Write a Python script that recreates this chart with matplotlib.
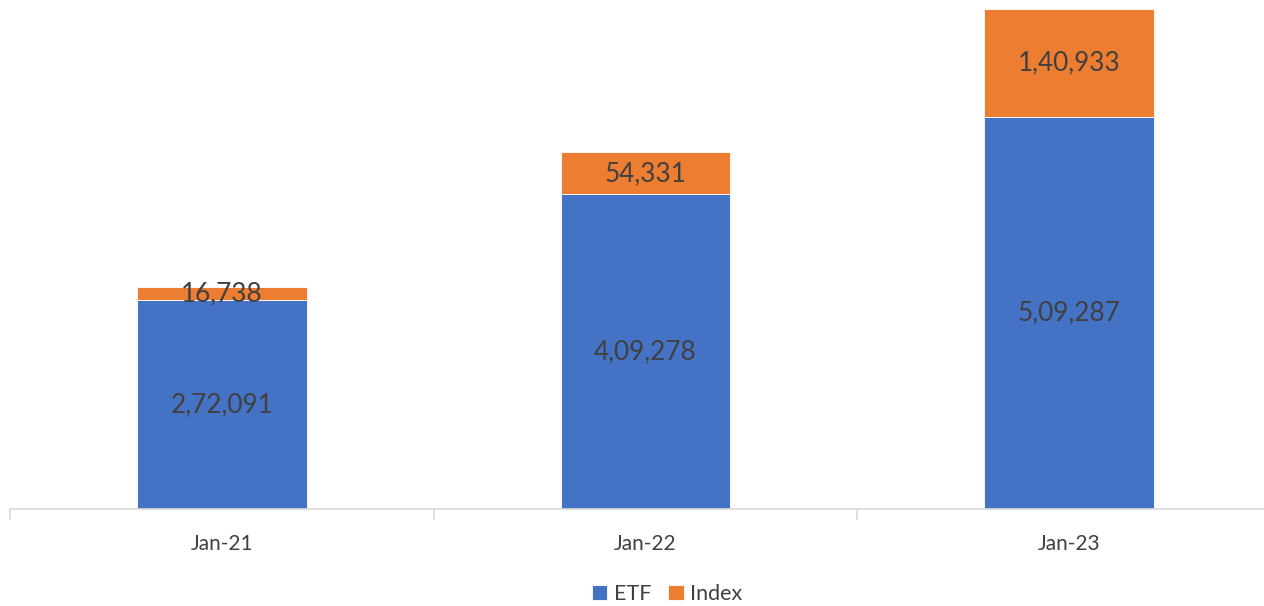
import matplotlib.pyplot as plt
import numpy as np

# data
periods = ['Jan-21', 'Jan-22', 'Jan-23']
etf = [272091, 409278, 509287]
index_vals = [16738, 54331, 140933]

BLUE = '#4472C4'
ORANGE = '#ED7D31'
TXT = '#404040'

plt.rcParams['font.family'] = ['Lato', 'DejaVu Sans']


def indian_fmt(v):
    s = str(int(v))
    if len(s) <= 3:
        return s
    head, tail = s[:-3], s[-3:]
    parts = []
    while len(head) > 2:
        parts.insert(0, head[-2:])
        head = head[:-2]
    if head:
        parts.insert(0, head)
    return ','.join(parts + [tail])


fig = plt.figure(figsize=(12.64, 6.06), dpi=100)
W, H = 1264, 606
ax = fig.add_axes([10 / W, 97 / H, 1271 / W, 500 / H])

x = np.arange(len(periods))
width = 0.40
b1 = ax.bar(x, etf, width, color=BLUE, edgecolor='white', linewidth=0.6, label='ETF')
b2 = ax.bar(x, index_vals, width, bottom=etf, color=ORANGE, edgecolor='white',
            linewidth=0.6, label='Index')

for i in range(len(periods)):
    ax.text(x[i], etf[i] / 2, indian_fmt(etf[i]), ha='center', va='center',
            fontsize=18.8, color=TXT)
    ax.text(x[i], etf[i] + index_vals[i] / 2, indian_fmt(index_vals[i]),
            ha='center', va='center', fontsize=18.8, color=TXT)

ax.set_xlim(-0.5, 2.5)
ax.set_ylim(0, etf[2] + index_vals[2])
for s in ['top', 'right', 'left']:
    ax.spines[s].set_visible(False)
ax.spines['bottom'].set_color('#D9D9D9')
ax.spines['bottom'].set_linewidth(1.2)
ax.set_yticks([])
ax.set_xticks(x)
ax.set_xticklabels(periods, fontsize=15, color=TXT)
ax.tick_params(axis='x', length=0, pad=18)
ax.set_xticks(np.arange(-0.5, 3.0, 1.0), minor=True)
ax.tick_params(axis='x', which='minor', length=8, color='#D9D9D9', width=1.2)

fig.legend(handles=[b1, b2], labels=['ETF', 'Index'], loc='center',
           bbox_to_anchor=(667 / W, 1 - 594 / H), ncol=2, frameon=False,
           fontsize=15.5, labelcolor=TXT, handlelength=0.72, handleheight=0.72,
           handletextpad=0.3, columnspacing=0.8)

fig.savefig('out.png', dpi=100)
